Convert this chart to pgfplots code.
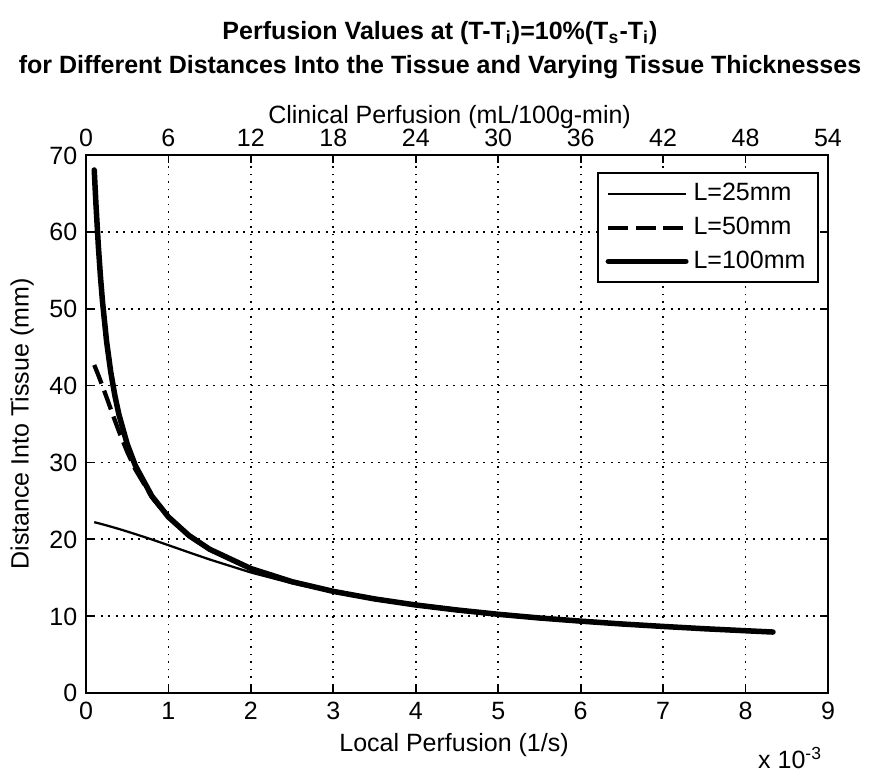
\documentclass[border=0pt]{standalone}
\usepackage{fontspec}
\setmainfont{Liberation Sans}
\usepackage{pgfplots}
\pgfplotsset{compat=1.18}

% x in units of 1e-3 1/s, y in mm
\pgfplotstableread{
x y
0.1 22.23
0.15 22.09
0.2 21.95
0.3 21.65
0.4 21.34
0.5 21.01
0.6 20.67
0.8 19.97
1.0 19.23
1.25 18.29
1.5 17.37
2.0 15.68
2.5 14.27
3.0 13.13
3.5 12.20
4.0 11.43
4.5 10.79
5.0 10.24
5.5 9.76
6.0 9.35
6.5 8.98
7.0 8.66
7.5 8.36
8.0 8.10
8.333 7.93
}\lshort

\pgfplotstableread{
x y
0.1 42.68
0.15 41.35
0.2 39.93
0.25 38.46
0.3 36.96
0.35 35.47
0.4 34.03
0.5 31.37
0.6 29.07
0.8 25.47
1.0 22.86
1.25 20.47
1.5 18.70
2.0 16.19
2.5 14.48
3.0 13.22
3.5 12.24
4.0 11.45
4.5 10.80
5.0 10.24
5.5 9.76
6.0 9.35
6.5 8.98
7.0 8.66
7.5 8.36
8.0 8.10
8.333 7.93
}\lmid

\pgfplotstableread{
x y
0.1 68.05
0.12 63.74
0.15 58.13
0.175 54.24
0.2 50.94
0.25 45.72
0.3 41.78
0.35 38.71
0.4 36.21
0.5 32.39
0.6 29.56
0.8 25.60
1.0 22.90
1.25 20.48
1.5 18.70
2.0 16.19
2.5 14.48
3.0 13.22
3.5 12.24
4.0 11.45
4.5 10.80
5.0 10.24
5.5 9.76
6.0 9.35
6.5 8.98
7.0 8.66
7.5 8.36
8.0 8.10
8.333 7.93
}\llong

\begin{document}
\begin{tikzpicture}
\pgfplotsset{
  every axis/.append style={
    at={(0pt,0pt)}, anchor=south west,
    scale only axis, width=296.8pt, height=215.2pt,
    ymin=0, ymax=70,
    tick align=inside, major tick length=3pt,
    tick style={black, line width=0.7pt},
    axis line style={line width=1pt},
    ticklabel style={font=\fontsize{10}{12}\selectfont, text height=7.2pt, text depth=0pt},
    label style={font=\fontsize{10}{12}\selectfont},
    /pgf/number format/assume math mode=true,
  }
}
\begin{axis}[
  xmin=0, xmax=9,
  xtick={0,1,...,9}, ytick={0,10,...,70},
  xtick pos=bottom, ytick pos=both, yticklabel pos=left,
  grid=major,
  major grid style={black, line width=0.7pt, dash pattern=on 0.7pt off 2.3pt},
  xlabel={Local Perfusion (1/s)},
  ylabel={Distance Into Tissue (mm)},
  xlabel style={at={(axis description cs:0.496,-0.097)}, anchor=center},
  ylabel style={at={(axis description cs:-0.086,0.5)}, anchor=center},
  legend image code/.code={\draw[#1] (0pt,0pt) -- (31pt,0pt);},
  legend cell align=left,
  legend style={at={(rel axis cs:0.988,0.968)}, anchor=north east,
    draw=black, line width=0.9pt, fill=white,
    font=\fontsize{10}{12}\selectfont,
    inner xsep=3pt, inner ysep=2pt, row sep=1pt},
]
\addplot[black, line width=0.9pt, line join=round] table {\lshort};
\addlegendentry{L=25mm}
\addplot[black, line width=1.7pt, dash pattern=on 8pt off 3pt, line join=round] table {\lmid};
\addlegendentry{L=50mm}
\addplot[black, line width=2.2pt, line join=round, line cap=round] table {\llong};
\addlegendentry{L=100mm}
\end{axis}

\begin{axis}[
  xmin=0, xmax=54,
  axis x line*=top, axis y line=none,
  xtick={0,6,...,54},
  xlabel={Clinical Perfusion (mL/100g-min)},
  xlabel style={at={(axis description cs:0.49,1.0706)}, anchor=center},
]
\end{axis}

\node[font=\fontsize{10}{12}\selectfont\bfseries] at (141.6pt,264pt)
  {Perfusion Values at (T-T\textsubscript{i})=10\%(T\textsubscript{s}-T\textsubscript{i})};
\node[font=\fontsize{10}{12}\selectfont\bfseries] at (141.6pt,250.4pt)
  {for Different Distances Into the Tissue and Varying Tissue Thicknesses};
\node[font=\fontsize{10}{12}\selectfont] at (281.7pt,-26pt) {x 10\textsuperscript{-3}};

\pgfresetboundingbox
\path[use as bounding box] (-34.4pt,-33.2pt) rectangle (320pt,277.2pt);
\end{tikzpicture}
\end{document}
